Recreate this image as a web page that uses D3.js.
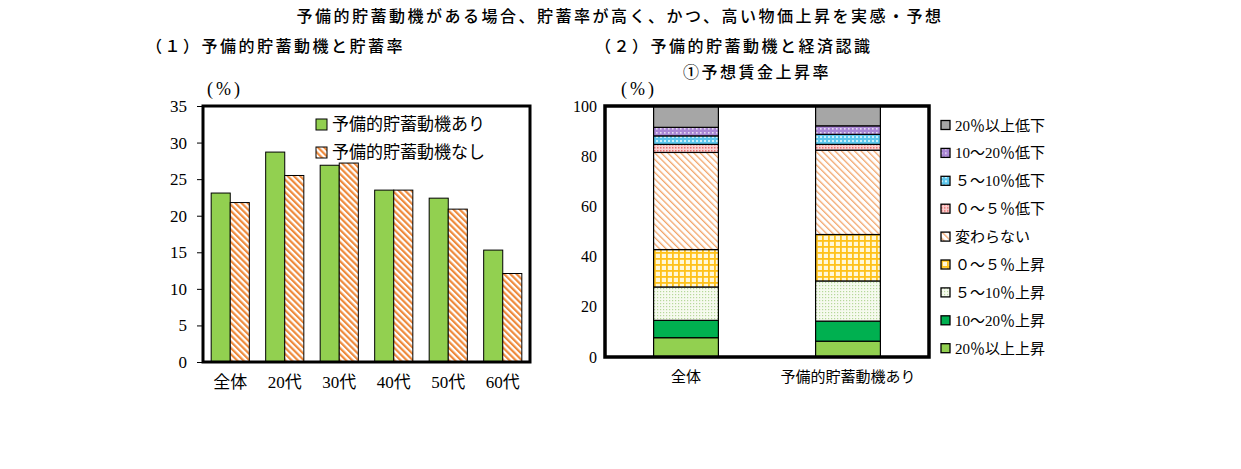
<!DOCTYPE html>
<html>
<head>
<meta charset="utf-8">
<script src="https://cdn.jsdelivr.net/npm/d3@7"></script>
<style>
body { margin: 0; background: #fff; }
text { font-family: "Liberation Serif", "Noto Sans CJK JP", serif; fill: #000; }
.gothic { font-family: "Noto Sans CJK JP", sans-serif; }
</style>
</head>
<body>
<svg id="chart" width="1241" height="469"></svg>
<script>
// left chart data
var ages = ["全体", "20代", "30代", "40代", "50代", "60代"];
var withMotive = [23.1, 28.7, 26.9, 23.5, 22.4, 15.3];
var withoutMotive = [21.8, 25.5, 27.2, 23.5, 20.9, 12.1];
var seriesLeft = ["予備的貯蓄動機あり", "予備的貯蓄動機なし"];
var leftTicks = [0, 5, 10, 15, 20, 25, 30, 35];

// right chart data (stack bottom -> top)
var groups = ["全体", "予備的貯蓄動機あり"];
var wageCats = ["20％以上上昇", "10～20％上昇", "５～10％上昇", "０～５％上昇", "変わらない",
                "０～５％低下", "５～10％低下", "10～20％低下", "20％以上低下"];
var wageAll = [7.7, 6.9, 13.3, 14.9, 38.7, 3.2, 3.4, 3.4, 8.5];
var wageMotive = [6.3, 8.0, 16.0, 18.5, 33.6, 2.3, 4.0, 3.4, 7.9];
var rightTicks = [0, 20, 40, 60, 80, 100];

var svg = d3.select("#chart");
var defs = svg.append("defs");

// patterns
function stripes(id, w, lw, color, bg) {
  var p = defs.append("pattern").attr("id", id)
    .attr("patternUnits", "userSpaceOnUse")
    .attr("width", w).attr("height", w)
    .attr("patternTransform", "rotate(-45)");
  p.append("rect").attr("width", w).attr("height", w).attr("fill", bg);
  p.append("rect").attr("width", lw).attr("height", w).attr("fill", color);
}
function dots(id, w, r, color, bg) {
  var p = defs.append("pattern").attr("id", id)
    .attr("patternUnits", "userSpaceOnUse")
    .attr("width", w).attr("height", w);
  p.append("rect").attr("width", w).attr("height", w).attr("fill", bg);
  p.append("rect").attr("x", 0).attr("y", 0).attr("width", r).attr("height", r).attr("fill", color);
}
stripes("stripeL", 4.4, 2.2, "#ee8a3c", "#fff");
stripes("stripeR", 4.6, 1.3, "#f2a56a", "#fff");
dots("dotGreen", 3, 1.2, "#b6d89a", "#f6faef");
dots("dotPink", 3, 1.5, "#e87070", "#fbd2d2");
dots("dotBlue", 4, 2, "#c8f0fb", "#5cc6ec");
dots("dotPurple", 4, 1.6, "#e6dcf4", "#a986d4");
var grid = defs.append("pattern").attr("id", "gridYellow")
  .attr("patternUnits", "userSpaceOnUse").attr("width", 6).attr("height", 6);
grid.append("rect").attr("width", 6).attr("height", 6).attr("fill", "#fff8d8");
grid.append("rect").attr("width", 1.8).attr("height", 6).attr("fill", "#ffc21a");
grid.append("rect").attr("width", 6).attr("height", 1.8).attr("fill", "#ffc21a");

var wageFills = ["#92d050", "#00b050", "url(#dotGreen)", "url(#gridYellow)", "url(#stripeR)",
                 "url(#dotPink)", "url(#dotBlue)", "url(#dotPurple)", "#a6a6a6"];

// titles
function title(x, y, anchor, txt) {
  svg.append("text").attr("class", "gothic")
    .attr("x", x).attr("y", y).attr("text-anchor", anchor)
    .attr("font-size", "16px").attr("font-weight", 500).attr("letter-spacing", "2.5px")
    .text(txt);
}
title(620, 22, "middle", "予備的貯蓄動機がある場合、貯蓄率が高く、かつ、高い物価上昇を実感・予想");
title(146, 52, "start", "（１）予備的貯蓄動機と貯蓄率");
title(595, 52, "start", "（２）予備的貯蓄動機と経済認識");
title(757, 78, "middle", "①予想賃金上昇率");

// ---------- left chart ----------
var L = {left: 203, right: 530, top: 106, bottom: 362};

var x0 = d3.scaleBand().domain(ages)
  .range([L.left, L.right]).paddingInner(0.3).paddingOuter(0.15);
var x1 = d3.scaleBand().domain(seriesLeft).range([0, x0.bandwidth()]);
var yL = d3.scaleLinear().domain([0, 35]).range([L.bottom, L.top]);

var left = svg.append("g");

var yAxisL = left.append("g")
  .attr("transform", "translate(" + L.left + ",0)")
  .call(d3.axisLeft(yL).tickValues(leftTicks).tickSize(6).tickPadding(10));
yAxisL.select(".domain").remove();
yAxisL.selectAll("text").attr("font-size", "17px").style("font-family", "Liberation Serif");

var xAxisL = left.append("g")
  .attr("transform", "translate(0," + L.bottom + ")")
  .call(d3.axisBottom(x0).tickSize(0).tickPadding(14));
xAxisL.select(".domain").remove();
xAxisL.selectAll("text").attr("font-size", "17px");

var leftRows = ages.map(function(a, i) {
  return [{cat: a, s: seriesLeft[0], v: withMotive[i]}, {cat: a, s: seriesLeft[1], v: withoutMotive[i]}];
});
var leftFill = {"予備的貯蓄動機あり": "#92d050", "予備的貯蓄動機なし": "url(#stripeL)"};

left.append("g").selectAll("g")
  .data(leftRows)
  .enter().append("g")
  .attr("transform", function(d) { return "translate(" + x0(d[0].cat) + ",0)"; })
  .selectAll("rect")
  .data(function(d) { return d; })
  .enter().append("rect")
  .attr("x", function(d) { return x1(d.s); })
  .attr("y", function(d) { return yL(d.v); })
  .attr("width", x1.bandwidth())
  .attr("height", function(d) { return yL(0) - yL(d.v); })
  .attr("fill", function(d) { return leftFill[d.s]; })
  .attr("stroke", "#000").attr("stroke-width", 1);

left.append("rect")
  .attr("x", L.left).attr("y", L.top)
  .attr("width", L.right - L.left).attr("height", L.bottom - L.top)
  .attr("fill", "none").attr("stroke", "#000").attr("stroke-width", 3);

left.append("text").attr("x", 207).attr("y", 95)
  .attr("font-size", "18px").attr("letter-spacing", "3px").text("(%)");

// legend left
var legL = left.append("g").selectAll("g")
  .data(seriesLeft).enter().append("g")
  .attr("transform", function(d, i) { return "translate(316," + (119 + i * 28) + ")"; });
legL.append("rect").attr("width", 11).attr("height", 11)
  .attr("fill", function(d) { return leftFill[d]; })
  .attr("stroke", "#000").attr("stroke-width", 1);
legL.append("text").attr("x", 16).attr("y", 11)
  .attr("font-size", "17px").text(function(d) { return d; });

// ---------- right chart ----------
var R = {left: 605, right: 929, top: 106, bottom: 357};

var xR = d3.scaleBand().domain(groups)
  .range([R.left, R.right]).paddingInner(0.6).paddingOuter(0.3);
var yR = d3.scaleLinear().domain([0, 100]).range([R.bottom, R.top]);

var right = svg.append("g");

var yAxisR = right.append("g")
  .attr("transform", "translate(" + R.left + ",0)")
  .call(d3.axisLeft(yR).tickValues(rightTicks).tickSize(0).tickPadding(8));
yAxisR.select(".domain").remove();
yAxisR.selectAll("text").attr("font-size", "16px").style("font-family", "Liberation Serif");

var xAxisR = right.append("g")
  .attr("transform", "translate(0," + R.bottom + ")")
  .call(d3.axisBottom(xR).tickSize(0).tickPadding(14));
xAxisR.select(".domain").remove();
xAxisR.selectAll("text").attr("font-size", "15px");

var stackData = groups.map(function(g, gi) {
  var o = {group: g};
  var vals = gi === 0 ? wageAll : wageMotive;
  wageCats.forEach(function(c, i) { o[c] = vals[i]; });
  return o;
});
var layers = d3.stack().keys(wageCats)(stackData);

right.append("g").selectAll("g")
  .data(layers).enter().append("g")
  .attr("fill", function(d, i) { return wageFills[i]; })
  .selectAll("rect")
  .data(function(d) { return d; })
  .enter().append("rect")
  .attr("x", function(d) { return xR(d.data.group); })
  .attr("y", function(d) { return yR(d[1]); })
  .attr("width", xR.bandwidth())
  .attr("height", function(d) { return yR(d[0]) - yR(d[1]); })
  .attr("stroke", "#000").attr("stroke-width", 1.2);

right.append("rect")
  .attr("x", R.left).attr("y", R.top)
  .attr("width", R.right - R.left).attr("height", R.bottom - R.top)
  .attr("fill", "none").attr("stroke", "#000").attr("stroke-width", 3.5);

right.append("text").attr("x", 621).attr("y", 95)
  .attr("font-size", "18px").attr("letter-spacing", "3px").text("(%)");

// legend right, top to bottom = reversed stack order
var legOrder = wageCats.slice().reverse();
var legR = right.append("g").selectAll("g")
  .data(legOrder).enter().append("g")
  .attr("transform", function(d, i) { return "translate(941," + (120.5 + i * 27.9) + ")"; });
legR.append("rect").attr("width", 9).attr("height", 9)
  .attr("fill", function(d) { return wageFills[wageCats.indexOf(d)]; })
  .attr("stroke", "#000").attr("stroke-width", 1.3);
legR.append("text").attr("x", 14).attr("y", 10)
  .attr("font-size", "15px").text(function(d) { return d; });
</script>
</body>
</html>
